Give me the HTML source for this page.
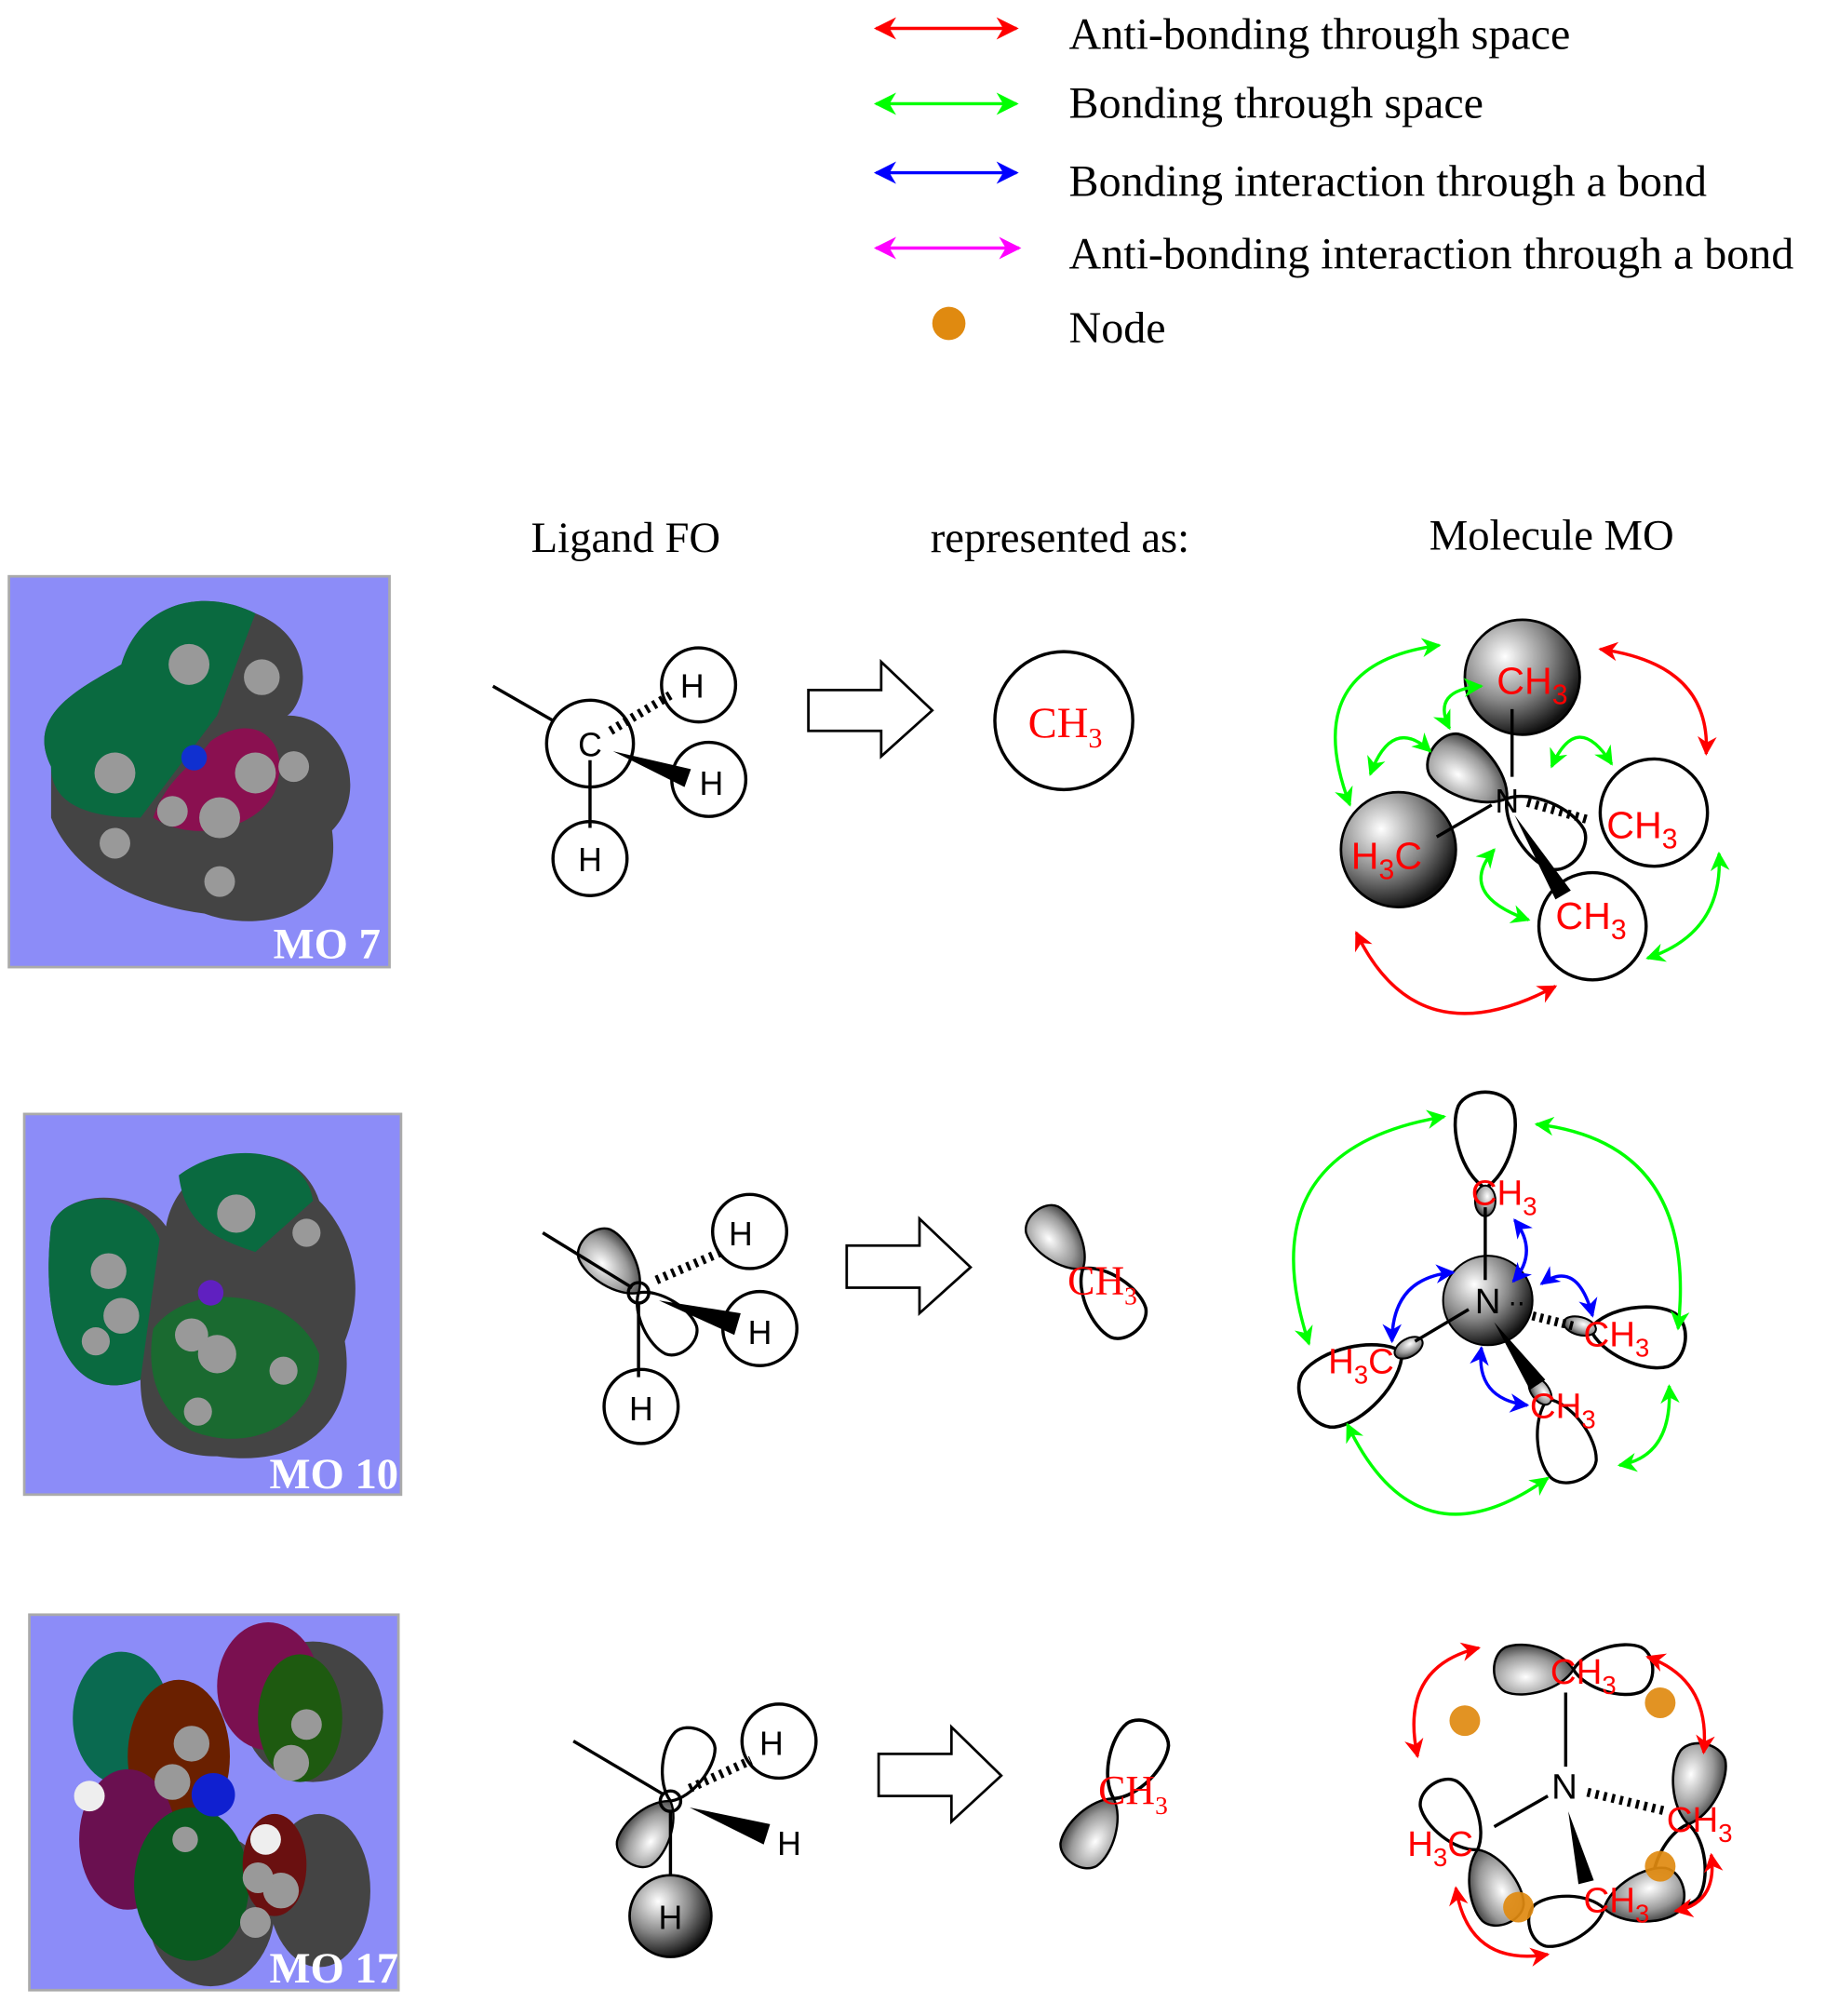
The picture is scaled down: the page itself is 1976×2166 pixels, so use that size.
<!DOCTYPE html>
<html><head><meta charset="utf-8"><style>
html,body{margin:0;padding:0;background:#fff}
svg{display:block}
.s{font-family:"Liberation Serif",serif}
.a{font-family:"Liberation Sans",sans-serif}
</style></head><body>
<svg width="1976" height="2166" viewBox="0 0 1440 1578" xmlns="http://www.w3.org/2000/svg">
<defs>
<radialGradient id="sp" cx="0.35" cy="0.32" r="0.7"><stop offset="0" stop-color="#fff"/><stop offset="0.55" stop-color="#888"/><stop offset="1" stop-color="#111"/></radialGradient>
<radialGradient id="lg" cx="0.6" cy="0.35" r="0.7"><stop offset="0" stop-color="#fff"/><stop offset="0.6" stop-color="#999"/><stop offset="1" stop-color="#333"/></radialGradient>
<path id="lobe" d="M0,0 C0.15,-0.25 0.62,-0.38 0.86,-0.28 C1.05,-0.18 1.05,0.18 0.86,0.28 C0.62,0.38 0.15,0.25 0,0Z"/>
<marker id="mr" viewBox="0 0 10 10" refX="9" refY="5" markerWidth="8" markerHeight="6" orient="auto-start-reverse"><path d="M0,0 L10,5 L0,10 L3,5Z" fill="#f00"/></marker>
<marker id="mg" viewBox="0 0 10 10" refX="9" refY="5" markerWidth="8" markerHeight="6" orient="auto-start-reverse"><path d="M0,0 L10,5 L0,10 L3,5Z" fill="#0f0"/></marker>
<marker id="mb" viewBox="0 0 10 10" refX="9" refY="5" markerWidth="8" markerHeight="6" orient="auto-start-reverse"><path d="M0,0 L10,5 L0,10 L3,5Z" fill="#00f"/></marker>
<marker id="Lr" viewBox="0 0 10 10" refX="9" refY="5" markerWidth="11" markerHeight="7" orient="auto-start-reverse"><path d="M0,0 L10,5 L0,10 L3,5Z" fill="#f00"/></marker>
<marker id="Lg" viewBox="0 0 10 10" refX="9" refY="5" markerWidth="11" markerHeight="7" orient="auto-start-reverse"><path d="M0,0 L10,5 L0,10 L3,5Z" fill="#0f0"/></marker>
<marker id="Lb" viewBox="0 0 10 10" refX="9" refY="5" markerWidth="11" markerHeight="7" orient="auto-start-reverse"><path d="M0,0 L10,5 L0,10 L3,5Z" fill="#00f"/></marker>
<marker id="Lm" viewBox="0 0 10 10" refX="9" refY="5" markerWidth="11" markerHeight="7" orient="auto-start-reverse"><path d="M0,0 L10,5 L0,10 L3,5Z" fill="#f0f"/></marker>
</defs>

<!-- legend -->
<g stroke-width="2.5" fill="none">
<line x1="686" y1="22" x2="796" y2="22" stroke="#f00" marker-start="url(#Lr)" marker-end="url(#Lr)"/>
<line x1="686" y1="81" x2="796" y2="81" stroke="#0f0" marker-start="url(#Lg)" marker-end="url(#Lg)"/>
<line x1="686" y1="135" x2="796" y2="135" stroke="#00f" marker-start="url(#Lb)" marker-end="url(#Lb)"/>
<line x1="686" y1="194" x2="798" y2="194" stroke="#f0f" marker-start="url(#Lm)" marker-end="url(#Lm)"/>
</g>
<circle cx="743" cy="253" r="13" fill="#e08a10"/>
<g class="s" font-size="35" fill="#000">
<text x="837" y="38">Anti-bonding through space</text>
<text x="837" y="92">Bonding through space</text>
<text x="837" y="153">Bonding interaction through a bond</text>
<text x="837" y="210">Anti-bonding interaction through a bond</text>
<text x="837" y="268">Node</text>
</g>
<g class="s" font-size="34" fill="#000">
<text x="490" y="432" text-anchor="middle">Ligand FO</text>
<text x="830" y="432" text-anchor="middle">represented as:</text>
<text x="1215" y="430" text-anchor="middle">Molecule MO</text>
</g>

<!-- MO images -->
<g>
<rect x="7" y="451" width="298" height="306" fill="#8c8cf8" stroke="#aaa" stroke-width="2"/>
<path d="M40,600 C20,560 60,540 95,520 C110,470 160,460 200,480 C250,500 240,550 225,560 C270,560 290,620 260,650 C270,720 200,730 160,715 C120,710 60,690 40,640Z" fill="#444"/>
<path d="M40,600 C20,560 60,540 95,520 C110,470 160,460 200,480 L170,560 L110,640 C70,640 40,630 40,600Z" fill="#0a6a40"/>
<path d="M165,580 C200,555 230,580 215,620 C200,650 150,660 120,640 C130,610 150,600 165,580Z" fill="#8a1050"/>
<g fill="#999"><circle cx="148" cy="520" r="16"/><circle cx="205" cy="530" r="14"/><circle cx="90" cy="605" r="16"/><circle cx="200" cy="605" r="16"/><circle cx="172" cy="640" r="16"/><circle cx="90" cy="660" r="12"/><circle cx="230" cy="600" r="12"/><circle cx="172" cy="690" r="12"/><circle cx="135" cy="635" r="12"/></g>
<circle cx="152" cy="593" r="10" fill="#1030d0"/>
<text x="298" y="750" text-anchor="end" class="s" font-weight="bold" font-size="34" fill="#fff">MO 7</text>

<rect x="19" y="872" width="295" height="298" fill="#8c8cf8" stroke="#aaa" stroke-width="2"/>
<path d="M40,960 C50,930 110,930 130,960 C140,900 230,880 250,940 C270,960 290,1000 270,1050 C280,1110 240,1150 170,1140 C120,1140 110,1110 110,1080 C60,1100 30,1050 40,960Z" fill="#444"/>
<path d="M40,960 C50,930 110,930 125,970 L110,1080 C60,1100 30,1050 40,960Z" fill="#0a6a40"/>
<path d="M140,920 C180,890 240,900 245,940 L200,980 C170,970 145,960 140,920Z" fill="#0a6a40"/>
<path d="M120,1040 C150,1000 230,1010 250,1060 C250,1110 200,1140 150,1120 C120,1100 115,1070 120,1040Z" fill="#1a6a30"/>
<g fill="#999"><circle cx="85" cy="995" r="14"/><circle cx="95" cy="1030" r="14"/><circle cx="75" cy="1050" r="11"/><circle cx="185" cy="950" r="15"/><circle cx="240" cy="965" r="11"/><circle cx="170" cy="1060" r="15"/><circle cx="150" cy="1045" r="13"/><circle cx="222" cy="1073" r="11"/><circle cx="155" cy="1105" r="11"/></g>
<circle cx="165" cy="1012" r="10" fill="#6020c0"/>
<text x="312" y="1165" text-anchor="end" class="s" font-weight="bold" font-size="34" fill="#fff">MO 10</text>

<rect x="23" y="1264" width="289" height="294" fill="#8c8cf8" stroke="#aaa" stroke-width="2"/>
<ellipse cx="95" cy="1345" rx="38" ry="52" fill="#0a6a50"/>
<ellipse cx="245" cy="1340" rx="55" ry="55" fill="#444"/>
<ellipse cx="210" cy="1320" rx="40" ry="50" fill="#7a1050"/>
<ellipse cx="235" cy="1345" rx="33" ry="50" fill="#1e5a10"/>
<ellipse cx="140" cy="1375" rx="40" ry="60" fill="#6a2000"/>
<ellipse cx="100" cy="1440" rx="38" ry="55" fill="#6a1050"/>
<ellipse cx="165" cy="1495" rx="50" ry="60" fill="#444"/>
<ellipse cx="150" cy="1475" rx="45" ry="60" fill="#0a5a20"/>
<ellipse cx="250" cy="1480" rx="40" ry="60" fill="#444"/>
<ellipse cx="215" cy="1460" rx="25" ry="40" fill="#6a1010"/>
<g fill="#999"><circle cx="135" cy="1395" r="14"/><circle cx="150" cy="1365" r="14"/><circle cx="228" cy="1380" r="14"/><circle cx="240" cy="1350" r="12"/><circle cx="220" cy="1480" r="14"/><circle cx="200" cy="1505" r="12"/><circle cx="145" cy="1440" r="10"/><circle cx="202" cy="1470" r="12"/></g>
<circle cx="70" cy="1406" r="12" fill="#eee"/><circle cx="208" cy="1440" r="12" fill="#eee"/>
<circle cx="167" cy="1405" r="17" fill="#1020d0"/>
<text x="312" y="1552" text-anchor="end" class="s" font-weight="bold" font-size="34" fill="#fff">MO 17</text>
</g>

<!-- Row 1 ligand -->
<g stroke="#000" stroke-width="2.5" fill="none">
<line x1="386" y1="537" x2="440" y2="568"/>
<circle cx="462" cy="582" r="34" fill="#fff"/>
<circle cx="547" cy="536" r="29"/>
<circle cx="555" cy="610" r="29"/>
<circle cx="462" cy="672" r="29"/>
<line x1="462" y1="595" x2="462" y2="648"/>
<line x1="478" y1="572" x2="525" y2="544" stroke-dasharray="2.5,4" stroke-width="7"/>
<path d="M633,540 L690,540 L690,518 L730,556 L690,592 L690,572 L633,572Z" stroke-width="2"/>
<circle cx="833" cy="564" r="54"/>
</g>
<path d="M480,588 L541,602 L536,616Z" fill="#000"/>
<g class="a" font-size="26"><text x="462" y="592" text-anchor="middle">C</text><text x="542" y="546" text-anchor="middle">H</text><text x="557" y="622" text-anchor="middle">H</text><text x="462" y="682" text-anchor="middle">H</text></g>
<text x="805" y="577" class="s" font-size="34" fill="#f00">CH<tspan font-size="22" dy="8">3</tspan></text>

<!-- Row 1 MO -->
<circle cx="1192" cy="530" r="45" fill="url(#sp)" stroke="#000" stroke-width="2"/>
<circle cx="1095" cy="665" r="45" fill="url(#sp)" stroke="#000" stroke-width="2"/>
<circle cx="1295" cy="636" r="42" fill="#fff" stroke="#000" stroke-width="2.5"/>
<circle cx="1247" cy="725" r="42" fill="#fff" stroke="#000" stroke-width="2.5"/>
<use href="#lobe" transform="translate(1180,625) rotate(-145) scale(70)" fill="url(#lg)" stroke="#000" stroke-width="0.03"/>
<use href="#lobe" transform="translate(1180,625) rotate(40) scale(72)" fill="#fff" stroke="#000" stroke-width="0.035"/>
<g stroke="#000" stroke-width="2.5">
<line x1="1184" y1="555" x2="1184" y2="608"/>
<line x1="1168" y1="630" x2="1125" y2="655"/>
<line x1="1196" y1="628" x2="1245" y2="642" stroke-dasharray="2.5,4" stroke-width="7"/>
</g>
<path d="M1186,638 L1230,697 L1218,704Z" fill="#000"/>
<text x="1180" y="636" class="a" font-size="26" text-anchor="middle">N</text>
<g class="a" font-size="30" fill="#f00">
<text x="1172" y="543">CH<tspan font-size="22" dy="8">3</tspan></text>
<text x="1058" y="680">H<tspan font-size="22" dy="8">3</tspan><tspan dy="-8">C</tspan></text>
<text x="1258" y="656">CH<tspan font-size="22" dy="8">3</tspan></text>
<text x="1218" y="727">CH<tspan font-size="22" dy="8">3</tspan></text>
</g>
<g fill="none" stroke-width="2.5">
<path d="M1062,730 Q1110,830 1218,772" stroke="#f00" marker-start="url(#mr)" marker-end="url(#mr)"/>
<path d="M1253,508 Q1340,520 1336,590" stroke="#f00" marker-start="url(#mr)" marker-end="url(#mr)"/>
<path d="M1057,630 Q1015,520 1127,505" stroke="#0f0" marker-start="url(#mg)" marker-end="url(#mg)"/>
<path d="M1073,606 Q1090,560 1120,588" stroke="#0f0" marker-start="url(#mg)" marker-end="url(#mg)"/>
<path d="M1135,570 Q1120,540 1160,537" stroke="#0f0" marker-start="url(#mg)" marker-end="url(#mg)"/>
<path d="M1215,600 Q1235,555 1262,598" stroke="#0f0" marker-start="url(#mg)" marker-end="url(#mg)"/>
<path d="M1170,665 Q1140,700 1197,720" stroke="#0f0" marker-start="url(#mg)" marker-end="url(#mg)"/>
<path d="M1290,750 Q1350,730 1346,668" stroke="#0f0" marker-start="url(#mg)" marker-end="url(#mg)"/>
</g>

<!-- Row 2 ligand -->
<use href="#lobe" transform="translate(500,1012) rotate(-132) scale(60)" fill="url(#lg)" stroke="#000" stroke-width="0.03"/>
<use href="#lobe" transform="translate(500,1012) rotate(48) scale(58)" fill="#fff" stroke="#000" stroke-width="0.04"/>
<g stroke="#000" stroke-width="2.5" fill="none">
<line x1="425" y1="965" x2="495" y2="1008"/>
<circle cx="500" cy="1012" r="8"/>
<circle cx="587" cy="964" r="29" fill="#fff"/>
<circle cx="595" cy="1040" r="29" fill="#fff"/>
<circle cx="502" cy="1101" r="29" fill="#fff"/>
<line x1="500" y1="1020" x2="500" y2="1078"/>
<line x1="514" y1="1002" x2="565" y2="980" stroke-dasharray="2.5,4" stroke-width="7"/>
<path d="M663,975 L720,975 L720,954 L760,992 L720,1028 L720,1008 L663,1008Z" stroke-width="2"/>
</g>
<path d="M516,1018 L580,1028 L575,1045Z" fill="#000"/>
<g class="a" font-size="26"><text x="580" y="975" text-anchor="middle">H</text><text x="595" y="1052" text-anchor="middle">H</text><text x="502" y="1112" text-anchor="middle">H</text></g>
<use href="#lobe" transform="translate(848,993) rotate(-130) scale(58)" fill="url(#lg)" stroke="#000" stroke-width="0.03"/>
<use href="#lobe" transform="translate(848,993) rotate(50) scale(64)" fill="#fff" stroke="#000" stroke-width="0.04"/>
<text x="836" y="1013" class="s" font-size="32" fill="#f00">CH<tspan font-size="20" dy="8">3</tspan></text>

<!-- Row 2 MO -->
<use href="#lobe" transform="translate(1163,930) rotate(-90) scale(75)" fill="#fff" stroke="#000" stroke-width="0.035"/>
<use href="#lobe" transform="translate(1098,1058) rotate(150) scale(88)" fill="#fff" stroke="#000" stroke-width="0.03"/>
<use href="#lobe" transform="translate(1245,1040) rotate(8) scale(75)" fill="#fff" stroke="#000" stroke-width="0.035"/>
<use href="#lobe" transform="translate(1212,1095) rotate(70) scale(68)" fill="#fff" stroke="#000" stroke-width="0.035"/>
<ellipse cx="1163" cy="940" rx="8" ry="12" fill="url(#lg)" stroke="#000" stroke-width="1.5"/>
<ellipse cx="1103" cy="1055" rx="12" ry="7" transform="rotate(-30 1103 1055)" fill="url(#lg)" stroke="#000" stroke-width="1.5"/>
<ellipse cx="1237" cy="1038" rx="13" ry="7" transform="rotate(15 1237 1038)" fill="url(#lg)" stroke="#000" stroke-width="1.5"/>
<ellipse cx="1206" cy="1089" rx="12" ry="7" transform="rotate(55 1206 1089)" fill="url(#lg)" stroke="#000" stroke-width="1.5"/>
<circle cx="1165" cy="1018" r="35" fill="url(#sp)" stroke="#000" stroke-width="1.5"/>
<g stroke="#000" stroke-width="2.5">
<line x1="1163" y1="945" x2="1163" y2="1002"/>
<line x1="1150" y1="1025" x2="1108" y2="1050"/>
<line x1="1200" y1="1030" x2="1232" y2="1038" stroke-dasharray="2.5,3.5" stroke-width="7"/>
</g>
<path d="M1170,1035 L1210,1080 L1198,1088Z" fill="#000"/>
<text x="1165" y="1028" class="a" font-size="28" text-anchor="middle">N</text>
<text x="1181" y="1022" class="a" font-size="20">‥</text>
<g class="a" font-size="28" fill="#f00">
<text x="1152" y="943">CH<tspan font-size="20" dy="8">3</tspan></text>
<text x="1040" y="1075">H<tspan font-size="20" dy="8">3</tspan><tspan dy="-8">C</tspan></text>
<text x="1240" y="1054">CH<tspan font-size="20" dy="8">3</tspan></text>
<text x="1198" y="1110">CH<tspan font-size="20" dy="8">3</tspan></text>
</g>
<g fill="none" stroke-width="2.5">
<path d="M1025,1052 Q975,900 1131,874" stroke="#0f0" marker-start="url(#mg)" marker-end="url(#mg)"/>
<path d="M1203,880 Q1330,895 1314,1040" stroke="#0f0" marker-start="url(#mg)" marker-end="url(#mg)"/>
<path d="M1055,1115 Q1110,1230 1212,1157" stroke="#0f0" marker-start="url(#mg)" marker-end="url(#mg)"/>
<path d="M1268,1147 Q1310,1140 1307,1085" stroke="#0f0" marker-start="url(#mg)" marker-end="url(#mg)"/>
<path d="M1186,955 Q1205,980 1185,1003" stroke="#00f" marker-start="url(#mb)" marker-end="url(#mb)"/>
<path d="M1090,1050 Q1090,1000 1138,996" stroke="#00f" marker-start="url(#mb)" marker-end="url(#mb)"/>
<path d="M1207,1005 Q1235,985 1247,1030" stroke="#00f" marker-start="url(#mb)" marker-end="url(#mb)"/>
<path d="M1160,1055 Q1155,1095 1196,1100" stroke="#00f" marker-start="url(#mb)" marker-end="url(#mb)"/>
</g>

<!-- Row 3 ligand -->
<use href="#lobe" transform="translate(525,1410) rotate(-68) scale(60)" fill="#fff" stroke="#000" stroke-width="0.04"/>
<use href="#lobe" transform="translate(525,1410) rotate(125) scale(58)" fill="url(#lg)" stroke="#000" stroke-width="0.03"/>
<g stroke="#000" stroke-width="2.5" fill="none">
<line x1="449" y1="1363" x2="520" y2="1405"/>
<circle cx="525" cy="1410" r="8"/>
<circle cx="610" cy="1363" r="29" fill="#fff"/>
<line x1="525" y1="1418" x2="525" y2="1470"/>
<line x1="540" y1="1400" x2="588" y2="1378" stroke-dasharray="2.5,4" stroke-width="7"/>
<path d="M688,1373 L745,1373 L745,1352 L784,1390 L745,1426 L745,1406 L688,1406Z" stroke-width="2"/>
</g>
<circle cx="525" cy="1500" r="32" fill="url(#sp)" stroke="#000" stroke-width="2"/>
<path d="M540,1415 L603,1428 L598,1444Z" fill="#000"/>
<g class="a" font-size="26"><text x="604" y="1374" text-anchor="middle">H</text><text x="618" y="1452" text-anchor="middle">H</text><text x="525" y="1510" text-anchor="middle">H</text></g>
<use href="#lobe" transform="translate(872,1408) rotate(-62) scale(66)" fill="#fff" stroke="#000" stroke-width="0.04"/>
<use href="#lobe" transform="translate(872,1408) rotate(122) scale(60)" fill="url(#lg)" stroke="#000" stroke-width="0.03"/>
<text x="860" y="1412" class="s" font-size="32" fill="#f00">CH<tspan font-size="20" dy="8">3</tspan></text>

<!-- Row 3 MO -->
<use href="#lobe" transform="translate(1232,1307) rotate(0) scale(62)" fill="#fff" stroke="#000" stroke-width="0.04"/>
<use href="#lobe" transform="translate(1232,1307) rotate(180) scale(62)" fill="url(#lg)" stroke="#000" stroke-width="0.03"/>
<use href="#lobe" transform="translate(1322,1428) rotate(-78) scale(64)" fill="url(#lg)" stroke="#000" stroke-width="0.03"/>
<use href="#lobe" transform="translate(1322,1428) rotate(100) scale(64)" fill="#fff" stroke="#000" stroke-width="0.04"/>
<use href="#lobe" transform="translate(1157,1448) rotate(-125) scale(62)" fill="#fff" stroke="#000" stroke-width="0.04"/>
<use href="#lobe" transform="translate(1157,1448) rotate(68) scale(62)" fill="url(#lg)" stroke="#000" stroke-width="0.03"/>
<use href="#lobe" transform="translate(1256,1494) rotate(165) scale(60)" fill="#fff" stroke="#000" stroke-width="0.04"/>
<use href="#lobe" transform="translate(1256,1494) rotate(-15) scale(64)" fill="url(#lg)" stroke="#000" stroke-width="0.03"/>
<g stroke="#000" stroke-width="2.5">
<line x1="1226" y1="1325" x2="1226" y2="1383"/>
<line x1="1212" y1="1406" x2="1170" y2="1430"/>
<line x1="1243" y1="1403" x2="1305" y2="1418" stroke-dasharray="2.5,4" stroke-width="7"/>
</g>
<path d="M1228,1418 L1248,1472 L1236,1475Z" fill="#000"/>
<text x="1225" y="1408" class="a" font-size="28" text-anchor="middle">N</text>
<g class="a" font-size="28" fill="#f00">
<text x="1214" y="1318">CH<tspan font-size="20" dy="8">3</tspan></text>
<text x="1305" y="1434">CH<tspan font-size="20" dy="8">3</tspan></text>
<text x="1102" y="1453">H<tspan font-size="20" dy="8">3</tspan><tspan dy="-8">C</tspan></text>
<text x="1240" y="1497">CH<tspan font-size="20" dy="8">3</tspan></text>
</g>
<g fill="#e08a10" opacity="0.92"><circle cx="1147" cy="1347" r="12"/><circle cx="1300" cy="1333" r="12"/><circle cx="1300" cy="1461" r="12"/><circle cx="1189" cy="1493" r="12"/></g>
<g fill="none" stroke="#f00" stroke-width="2.5">
<path d="M1158,1290 Q1095,1305 1110,1375" marker-start="url(#mr)" marker-end="url(#mr)"/>
<path d="M1290,1297 Q1340,1315 1334,1372" marker-start="url(#mr)" marker-end="url(#mr)"/>
<path d="M1140,1478 Q1150,1540 1212,1530" marker-start="url(#mr)" marker-end="url(#mr)"/>
<path d="M1312,1496 Q1345,1490 1340,1452" marker-start="url(#mr)" marker-end="url(#mr)"/>
</g>
</svg>
</body></html>
